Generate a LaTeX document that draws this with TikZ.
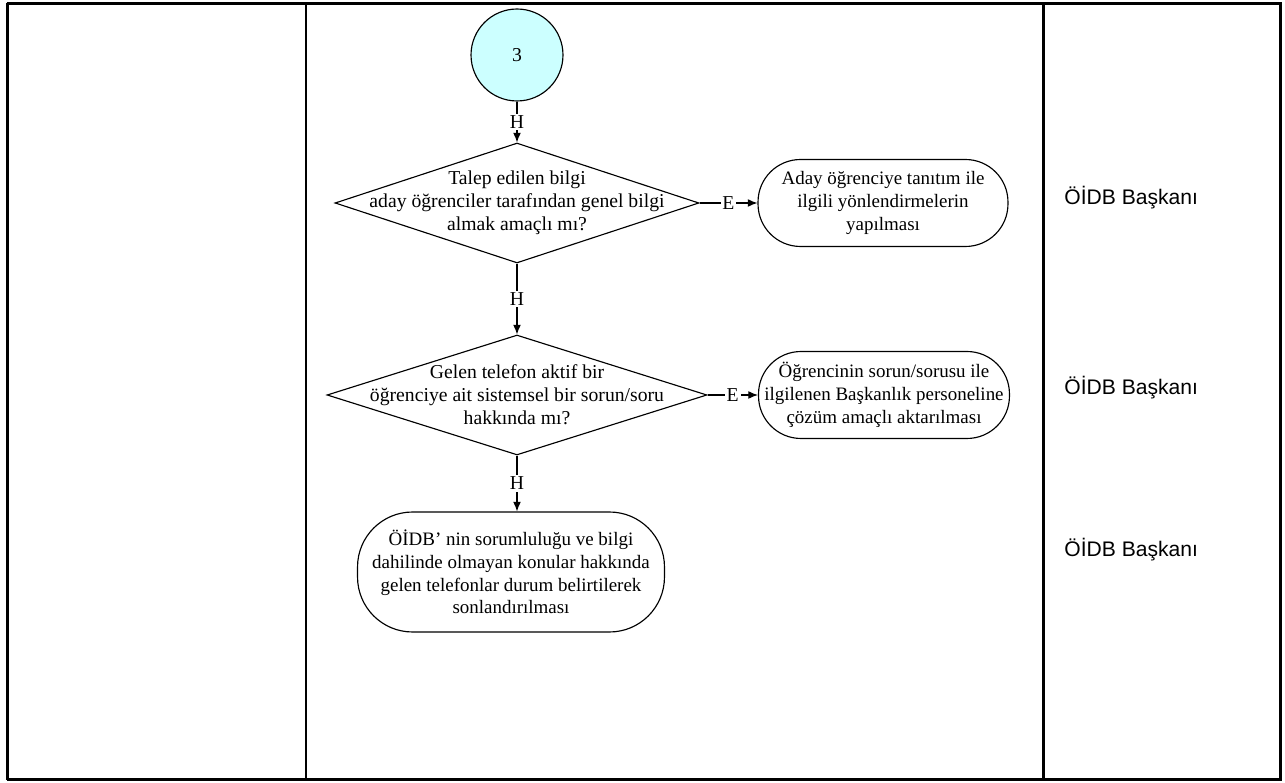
\documentclass[tikz,border=0pt]{standalone}
\usepackage{fontspec}
\setmainfont{Liberation Serif}
\newfontfamily\lanefont{Liberation Sans}
\usepackage{xcolor}
\usepackage{tikz}
\usetikzlibrary{shapes.geometric,arrows.meta}
\definecolor{startcyan}{RGB}{204,255,255}

\begin{document}
\begin{tikzpicture}[x=0.02cm,y=-0.02cm,line width=0.65pt,
    txt/.style={font=\fontsize{11.2}{13}\selectfont},
    ask/.style={diamond,draw,txt,align=center,inner xsep=-2cm,inner ysep=-0.5cm,minimum width=7.28cm,minimum height=2.4cm},
    act/.style={rectangle,draw,align=center,font=\fontsize{10.8}{13}\selectfont,rounded corners=0.85cm,minimum width=5cm,minimum height=1.74cm},
    yesno/.style={txt,fill=white,inner sep=1pt},
    flow/.style={-{Latex[length=5.5pt,width=4.5pt]}},
    lane/.style={anchor=west,font=\lanefont\fontsize{12}{14}\selectfont}]
    \useasboundingbox (0,0) rectangle (1285,783);
    % table frame
    \draw[line width=2pt] (6.5,3.5) -- (1281.5,3.5);
    \draw[line width=2pt] (6.5,779.5) -- (1281.5,779.5);
    \foreach \x in {7.5,306,1043.5,1280.5}
        \draw[line width=1.4pt] (\x,3.5) -- (\x,779.5);
    % flow
    \node [circle,draw,fill=startcyan,txt,minimum size=1.84cm] (c3) at (517,55) {3};
    \node [ask] (q1) at (517,203) {Talep edilen bilgi\\aday öğrenciler tarafından genel bilgi\\almak amaçlı mı?};
    \node [ask,minimum width=7.6cm] (q2) at (517,395) {Gelen telefon aktif bir\\öğrenciye ait sistemsel bir sorun/soru\\hakkında mı?};
    \node [act] (t1) at (883,203) {Aday öğrenciye tanıtım ile\\ilgili yönlendirmelerin\\yapılması};
    \node [act] (t2) at (884,395) {Öğrencinin sorun/sorusu ile\\ilgilenen Başkanlık personeline\\çözüm amaçlı aktarılması};
    \node [act,rounded corners=1.1cm,minimum width=6.14cm,minimum height=2.4cm] (t3) at (511,572) {ÖİDB’ nin sorumluluğu ve bilgi\\dahilinde olmayan konular hakkında\\gelen telefonlar durum belirtilerek\\sonlandırılması};
    \draw[flow] (c3) -- node[yesno] {H} (q1);
    \draw[flow] (q1) -- node[yesno] {H} (q2);
    \draw[flow] (q2) -- node[yesno] {H} (q2 |- t3.north);
    \draw[flow] (q1) -- node[yesno] {E} (t1);
    \draw[flow] (q2) -- node[yesno] {E} (t2);
    % responsible
    \node [lane] (r1) at (1058,198) {ÖİDB Başkanı};
    \node [lane] (r2) at (1058,388) {ÖİDB Başkanı};
    \node [lane] (r3) at (1058,550) {ÖİDB Başkanı};
\end{tikzpicture}
\end{document}
